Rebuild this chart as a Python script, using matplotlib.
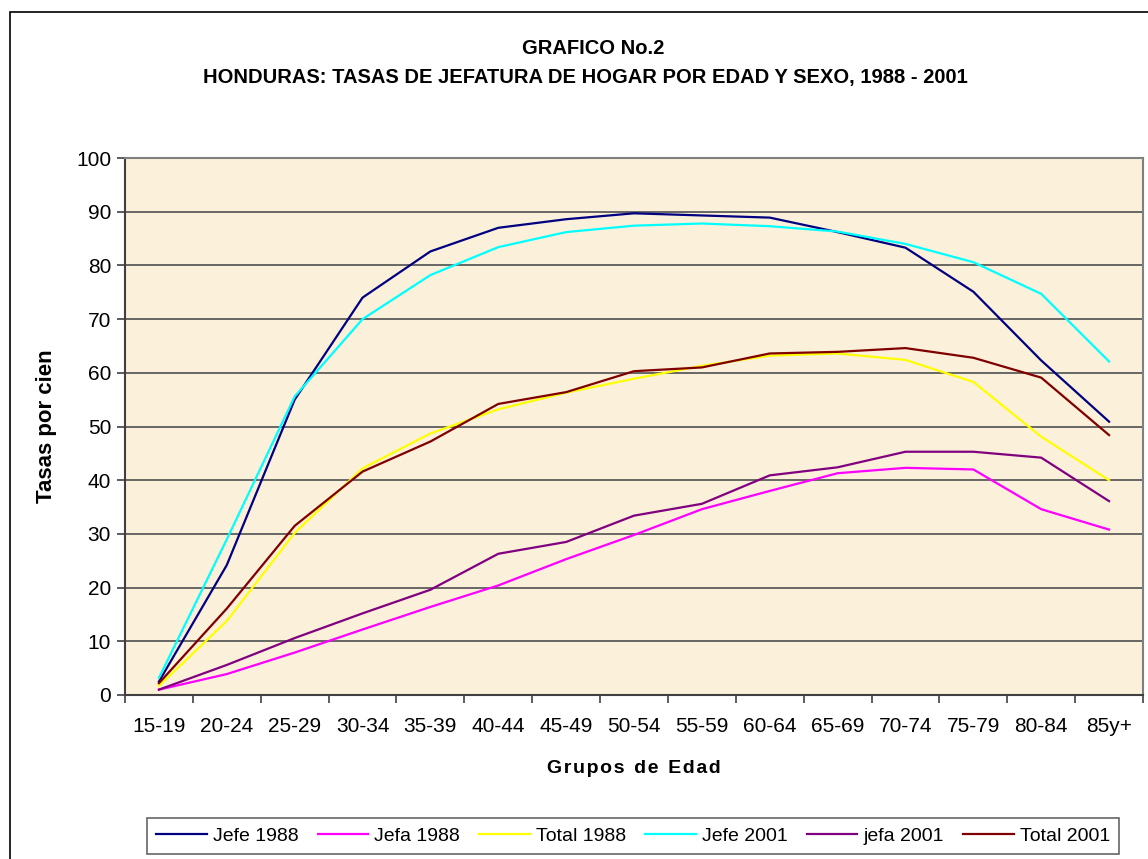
import matplotlib
matplotlib.use("Agg")
import matplotlib.pyplot as plt
from matplotlib.patches import Rectangle
import numpy as np

grupos = ["15-19", "20-24", "25-29", "30-34", "35-39", "40-44", "45-49", "50-54",
          "55-59", "60-64", "65-69", "70-74", "75-79", "80-84", "85y+"]

jefe_1988 = [2.5, 24.2, 55.0, 74.0, 82.6, 87.0, 88.6, 89.7, 89.3, 88.9, 86.2, 83.3, 75.1, 62.3, 50.9]
jefa_1988 = [1.0, 3.9, 7.9, 12.2, 16.4, 20.4, 25.3, 29.8, 34.6, 38.0, 41.3, 42.3, 42.0, 34.6, 30.8]
total_1988 = [1.7, 13.8, 30.2, 42.2, 48.7, 53.2, 56.3, 58.9, 61.3, 63.2, 63.6, 62.4, 58.3, 48.1, 40.0]
jefe_2001 = [3.2, 29.0, 55.6, 70.0, 78.2, 83.4, 86.2, 87.4, 87.8, 87.3, 86.3, 84.0, 80.6, 74.7, 62.1]
jefa_2001 = [1.0, 5.6, 10.6, 15.2, 19.6, 26.3, 28.5, 33.4, 35.6, 40.9, 42.4, 45.3, 45.3, 44.2, 36.1]
total_2001 = [2.2, 16.1, 31.5, 41.6, 47.2, 54.2, 56.4, 60.3, 61.0, 63.6, 63.9, 64.6, 62.8, 59.1, 48.4]

series = [
    ("Jefe 1988", jefe_1988, "#000080"),
    ("Jefa 1988", jefa_1988, "#FF00FF"),
    ("Total 1988", total_1988, "#FFFF00"),
    ("Jefe 2001", jefe_2001, "#00FFFF"),
    ("jefa 2001", jefa_2001, "#800080"),
    ("Total 2001", total_2001, "#800000"),
]

plt.rcParams["font.family"] = ["Liberation Sans", "DejaVu Sans"]

fig = plt.figure(figsize=(11.48, 8.59), dpi=100)
# outer chart frame (cut at right / bottom like the source)
fig.patches.append(Rectangle((10 / 1148, -0.01), 1.2, 1 - 12 / 859 + 0.01,
                             transform=fig.transFigure, fill=False,
                             edgecolor="black", linewidth=1.2))

ax = fig.add_axes([125 / 1148, (859 - 695) / 859, 1018 / 1148, 537 / 859])
ax.set_facecolor("#FBF0DA")

x = np.arange(len(grupos))
for name, vals, col in series:
    ax.plot(x, vals, color=col, linewidth=1.6, label=name)

ax.set_xlim(-0.5, len(grupos) - 0.5)
ax.set_ylim(0, 100)
ax.set_yticks(range(0, 101, 10))
ax.yaxis.grid(True, color="#505050", linewidth=1.2)
ax.set_axisbelow(True)

ax.set_xticks(x)
ax.set_xticklabels(grupos)
ax.set_xticks(np.arange(-0.5, len(grupos), 1), minor=True)
ax.tick_params(axis="x", which="major", length=0, pad=16, labelsize=15)
ax.tick_params(axis="x", which="minor", length=6, width=1.2, color="#404040")
ax.tick_params(axis="y", length=6, width=1.2, color="#404040", labelsize=15, pad=4)

for s in ["left", "bottom"]:
    ax.spines[s].set_color("#404040")
    ax.spines[s].set_linewidth(1.5)
for s in ["top", "right"]:
    ax.spines[s].set_color("#808080")
    ax.spines[s].set_linewidth(1.5)

ax.set_ylabel("Tasas por cien", fontsize=16, fontweight="bold", labelpad=14)
ax.set_xlabel("G r u p o s   d e   E d a d".replace("   ", "\u2002").replace(" ", "\u200a"),
              fontsize=14, fontweight="bold", labelpad=17)

fig.text(593 / 1148, 1 - 48 / 859, "GRAFICO No.2", ha="center", va="center",
         fontsize=14.5, fontweight="bold")
fig.text(585 / 1148, 1 - 78 / 859,
         "HONDURAS: TASAS DE JEFATURA DE HOGAR POR EDAD Y SEXO, 1988 - 2001",
         ha="center", va="center", fontsize=14.5, fontweight="bold")

leg = fig.legend(loc="center", bbox_to_anchor=(633 / 1148, 1 - 836 / 859), ncol=6,
                 frameon=True, fancybox=False, edgecolor="#404040",
                 prop={"size": 14}, handlelength=2.6,
                 columnspacing=1.0, handletextpad=0.3, borderpad=0.45)
leg.get_frame().set_linewidth(1.2)

fig.savefig("out.png", dpi=100)
